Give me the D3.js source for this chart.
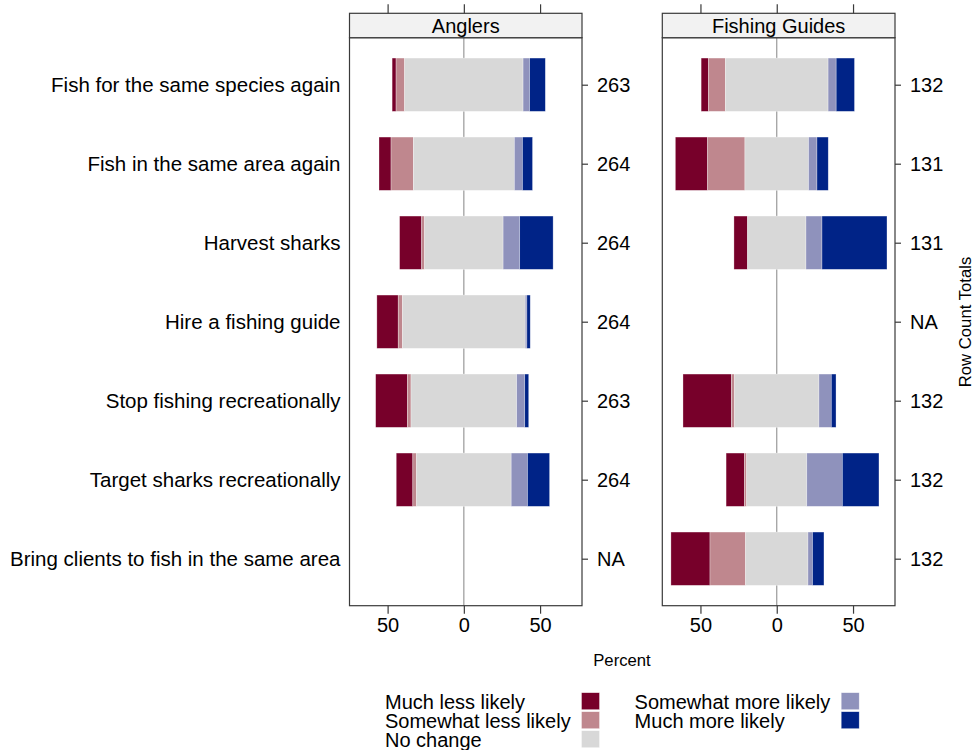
<!DOCTYPE html>
<html>
<head>
<meta charset="utf-8">
<script src="https://cdn.jsdelivr.net/npm/d3@7"></script>
<style>
  html, body { margin: 0; padding: 0; background: #fff; }
  svg { display: block; font-family: "Liberation Sans", Arial, sans-serif; }
</style>
</head>
<body>
<svg id="chart" width="975" height="750"></svg>
<script>
// Survey statements (rows, top to bottom)
const statements = [
  "Fish for the same species again",
  "Fish in the same area again",
  "Harvest sharks",
  "Hire a fishing guide",
  "Stop fishing recreationally",
  "Target sharks recreationally",
  "Bring clients to fish in the same area"
];

// Response levels, from most negative to most positive
const levels = ["Much less likely", "Somewhat less likely", "No change",
                "Somewhat more likely", "Much more likely"];
const levelColors = ["#77002A", "#BF878E", "#D8D8D8", "#8F92BC", "#002387"];

// Percent of respondents per level, one value per statement (null = not asked)
const anglersMuchLess     = [2.6, 7.9, 14.5, 14.0, 20.8, 10.9, null];
const anglersSomewhatLess = [5.6, 14.6, 1.9, 2.8, 2.4, 2.4, null];
const anglersNoChange     = [77.7, 66.3, 51.5, 80.5, 69.3, 62.1, null];
const anglersSomewhatMore = [4.3, 5.3, 10.9, 1.1, 5.3, 10.7, null];
const anglersMuchMore     = [10.3, 6.6, 21.9, 2.2, 2.6, 14.5, null];

const guidesMuchLess      = [4.8, 21.1, 8.9, null, 31.7, 12.0, 25.6];
const guidesSomewhatLess  = [11.1, 24.5, 0, null, 2.1, 1.5, 23.3];
const guidesNoChange      = [67.3, 41.7, 38.3, null, 55.3, 39.4, 40.9];
const guidesSomewhatMore  = [5.3, 5.5, 10.5, null, 8.1, 23.3, 3.0];
const guidesMuchMore      = [12.0, 7.4, 42.6, null, 3.1, 24.0, 7.5];

// Number of respondents per statement
const anglersTotals = [263, 264, 264, 264, 263, 264, null];
const guidesTotals  = [132, 131, 131, null, 132, 132, 132];

// Axis ticks
const xTicks = [-50, 0, 50];

const panels = [
  { name: "Anglers", left: 349.5, right: 582,
    series: [anglersMuchLess, anglersSomewhatLess, anglersNoChange, anglersSomewhatMore, anglersMuchMore],
    totals: anglersTotals },
  { name: "Fishing Guides", left: 662.3, right: 895,
    series: [guidesMuchLess, guidesSomewhatLess, guidesNoChange, guidesSomewhatMore, guidesMuchMore],
    totals: guidesTotals }
];

const svg = d3.select("#chart");
const stripTop = 13.3, panelTop = 37.7, panelBottom = 605.7;
const frameColor = "#3a3a3a";

const y = d3.scalePoint().domain(statements).range([panelTop, panelBottom]).padding(0.595);
const barH = 53.3;

// Row labels on the left
svg.append("g").selectAll("text").data(statements).join("text")
  .attr("x", 340.5).attr("y", d => y(d)).attr("dy", "0.35em")
  .attr("text-anchor", "end").attr("font-size", 20.5).attr("fill", "#000")
  .text(d => d);

panels.forEach(p => {
  const x = d3.scaleLinear().domain([-75, 77.5]).range([p.left, p.right]);
  const g = svg.append("g");

  // Zero reference line
  g.append("line")
    .attr("x1", x(0)).attr("x2", x(0)).attr("y1", panelTop).attr("y2", panelBottom)
    .attr("stroke", "#999").attr("stroke-width", 1.2);

  // Diverging stacked bars: neutral level centred on zero
  statements.forEach((s, i) => {
    const vals = p.series.map(a => a[i]);
    if (vals.some(v => v === null)) return;
    let start = -(vals[0] + vals[1] + vals[2] / 2);
    vals.forEach((v, k) => {
      if (v > 0) {
        g.append("rect")
          .attr("x", x(start)).attr("width", x(start + v) - x(start))
          .attr("y", y(s) - barH / 2).attr("height", barH)
          .attr("fill", levelColors[k])
          .attr("stroke", "#ffffff").attr("stroke-opacity", 0.5).attr("stroke-width", 0.6);
      }
      start += v;
    });
  });

  // Panel frame
  g.append("rect")
    .attr("x", p.left).attr("y", panelTop).attr("width", p.right - p.left)
    .attr("height", panelBottom - panelTop)
    .attr("fill", "none").attr("stroke", frameColor).attr("stroke-width", 1.2);

  // Strip with panel title
  g.append("rect")
    .attr("x", p.left).attr("y", stripTop).attr("width", p.right - p.left)
    .attr("height", panelTop - stripTop)
    .attr("fill", "#f2f2f2").attr("stroke", frameColor).attr("stroke-width", 1.2);
  g.append("text")
    .attr("x", (p.left + p.right) / 2).attr("y", (stripTop + panelTop) / 2).attr("dy", "0.35em")
    .attr("text-anchor", "middle").attr("font-size", 20).attr("fill", "#000")
    .text(p.name);

  // Bottom axis (labels show absolute percent)
  const bottom = g.append("g").attr("transform", `translate(0,${panelBottom})`)
    .call(d3.axisBottom(x).tickValues(xTicks).tickSize(8).tickPadding(4)
      .tickFormat(d => Math.abs(d)));
  bottom.select(".domain").remove();
  bottom.selectAll("line").attr("stroke", frameColor).attr("stroke-width", 1.2);
  bottom.selectAll("text").attr("font-size", 20).attr("font-family", "Liberation Sans, Arial, sans-serif").attr("fill", "#000");

  // Top ticks above the strip
  const top = g.append("g").attr("transform", `translate(0,${stripTop})`)
    .call(d3.axisTop(x).tickValues(xTicks).tickSize(9).tickFormat(""));
  top.select(".domain").remove();
  top.selectAll("line").attr("stroke", frameColor).attr("stroke-width", 1.2);

  // Right axis with row count totals
  const right = g.append("g").attr("transform", `translate(${p.right},0)`)
    .call(d3.axisRight(y).tickSize(6).tickPadding(9)
      .tickFormat((d, i) => p.totals[i] === null ? "NA" : p.totals[i]));
  right.select(".domain").remove();
  right.selectAll("line").attr("stroke", frameColor).attr("stroke-width", 1.2);
  right.selectAll("text").attr("font-size", 20).attr("font-family", "Liberation Sans, Arial, sans-serif").attr("fill", "#000");
});

// Axis titles
svg.append("text")
  .attr("x", 622).attr("y", 665.5).attr("text-anchor", "middle")
  .attr("font-size", 16.7).attr("fill", "#000").text("Percent");
svg.append("text")
  .attr("transform", "translate(971,322) rotate(-90)")
  .attr("text-anchor", "middle")
  .attr("font-size", 16.7).attr("fill", "#000").text("Row Count Totals");

// Legend in two columns: text then swatch
const legendCols = [
  { textX: 385, swatchX: 581.5, items: [0, 1, 2] },
  { textX: 634.6, swatchX: 841.2, items: [3, 4] }
];
legendCols.forEach(col => {
  col.items.forEach((k, j) => {
    svg.append("rect")
      .attr("x", col.swatchX).attr("y", 692.7 + j * 19)
      .attr("width", 18).attr("height", 17)
      .attr("fill", levelColors[k])
      .attr("stroke", "#ffffff").attr("stroke-opacity", 0.6).attr("stroke-width", 0.6);
    svg.append("text")
      .attr("x", col.textX).attr("y", 709.3 + j * 18.7)
      .attr("font-size", 20).attr("fill", "#000")
      .text(levels[k]);
  });
});
</script>
</body>
</html>
